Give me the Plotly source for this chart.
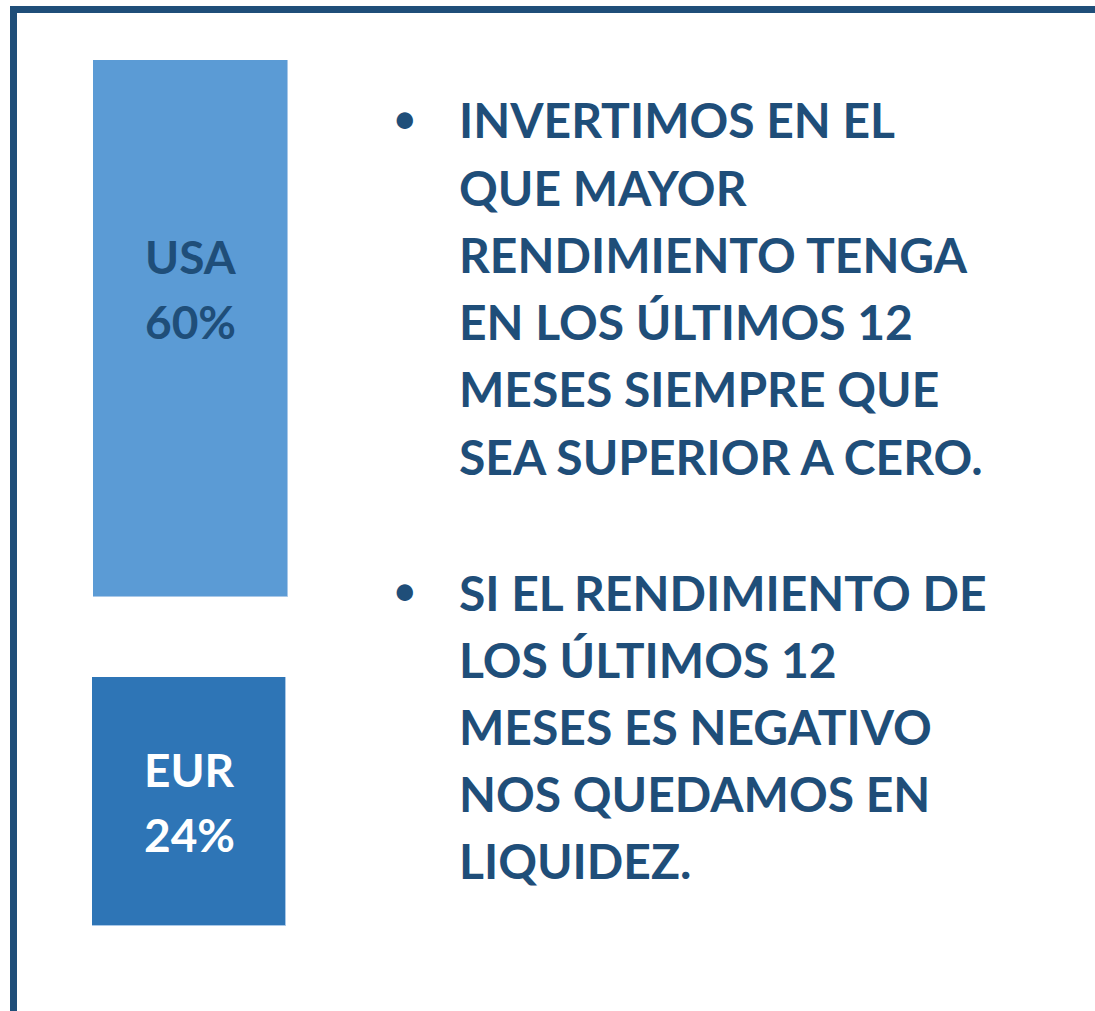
import plotly.graph_objects as go

W, H = 1095, 1011

regions = ["USA", "EUR"]
weights = [60, 24]
bar_colors = ["#5B9BD5", "#2E75B6"]
label_colors = ["#1F4E79", "#FFFFFF"]

bullet1 = ["INVERTIMOS EN EL", "QUE MAYOR", "RENDIMIENTO TENGA", "EN LOS ÚLTIMOS 12",
           "MESES SIEMPRE QUE", "SEA SUPERIOR A CERO."]
bullet2 = ["SI EL RENDIMIENTO DE", "LOS ÚLTIMOS 12", "MESES ES NEGATIVO",
           "NOS QUEDAMOS EN", "LIQUIDEZ."]

TEXT = "#1F4E79"
FONT = "Lato"

def px(x):
    return x / W

def py(y):
    return 1 - y / H

fig = go.Figure()

panels = [
    dict(x=(93, 288), y=(60, 597)),
    dict(x=(92, 286), y=(677, 926)),
]

layout = dict(
    width=W, height=H, margin=dict(l=0, r=0, t=0, b=0),
    paper_bgcolor="white", plot_bgcolor="white", showlegend=False,
    bargap=0,
)

annotations = []
for i, (name, val, col, lcol, pan) in enumerate(zip(regions, weights, bar_colors, label_colors, panels)):
    sfx = "" if i == 0 else str(i + 1)
    fig.add_trace(go.Bar(
        x=[name], y=[val], marker=dict(color=col, line=dict(color="#A9C8E8", width=1)),
        xaxis="x" + sfx, yaxis="y" + sfx, hoverinfo="skip",
    ))
    layout["xaxis" + sfx] = dict(domain=[px(pan["x"][0]), px(pan["x"][1])], visible=False,
                                 anchor="y" + sfx, fixedrange=True)
    layout["yaxis" + sfx] = dict(domain=[py(pan["y"][1]), py(pan["y"][0])], visible=False,
                                 range=[0, val], anchor="x" + sfx, fixedrange=True)
    cx = (pan["x"][0] + pan["x"][1]) / 2
    ytop = 257 if i == 0 else 769
    annotations.append(dict(x=px(cx), y=py(ytop), xref="paper", yref="paper",
                            text=f"<b>{name}</b>", showarrow=False, xanchor="center", yanchor="middle",
                            font=dict(family=FONT, size=46, color=lcol)))
    annotations.append(dict(x=px(cx), y=py(ytop + 65), xref="paper", yref="paper",
                            text=f"<b>{val}%</b>", showarrow=False, xanchor="center", yanchor="middle",
                            font=dict(family=FONT, size=46, color=lcol)))

def add_block(lines, y0):
    annotations.append(dict(x=px(405), y=py(y0 - 5), xref="paper", yref="paper", text="•",
                            showarrow=False, xanchor="center", yanchor="middle",
                            font=dict(family=FONT, size=44, color=TEXT)))
    for k, line in enumerate(lines):
        annotations.append(dict(x=px(457), y=py(y0 - 2 + 67.2 * k), xref="paper", yref="paper",
                                text=f"<b>{line}</b>", showarrow=False, xanchor="left", yanchor="middle",
                                font=dict(family=FONT, size=48, color=TEXT)))

add_block(bullet1, 122)
add_block(bullet2, 594)

layout["annotations"] = annotations
layout["shapes"] = [dict(type="rect", xref="paper", yref="paper",
                         x0=px(13.5), x1=1.2, y0=-0.2, y1=py(9.5),
                         line=dict(color="#1F4E79", width=7), fillcolor="rgba(0,0,0,0)", layer="above")]
fig.update_layout(**layout)
fig.write_html("out.html", config={"displayModeBar": False},
               post_script="document.body.style.margin='0';document.body.style.overflow='hidden';")
